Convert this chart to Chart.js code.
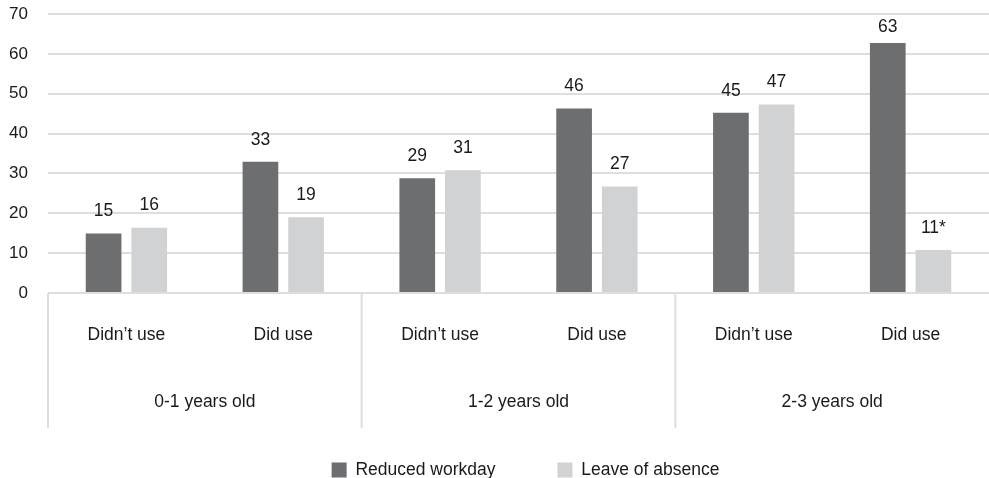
<!DOCTYPE html>
<html>
<head>
<meta charset="utf-8">
<script src="https://cdn.jsdelivr.net/npm/chart.js@4"></script>
<style>
html,body{margin:0;padding:0;background:#fff;}
#wrap{width:989px;height:478px;position:relative;}
</style>
</head>
<body>
<div id="wrap"><canvas id="c"></canvas></div>
<script>
const categories = ["Didn\u2019t use","Did use","Didn\u2019t use","Did use","Didn\u2019t use","Did use"];
const groups = ["0-1 years old","1-2 years old","2-3 years old"];
const reducedWorkday = [14.9, 32.9, 28.8, 46.3, 45.2, 62.7];
const leaveOfAbsence = [16.4, 19.0, 30.8, 26.7, 47.3, 10.8];
const reducedLabels = ["15","33","29","46","45","63"];
const leaveLabels = ["16","19","31","27","47","11*"];
const yTicks = [0,10,20,30,40,50,60,70];

const FONT = "'Liberation Sans', Arial, Helvetica, sans-serif";
const TEXT = "#1a1a1a";
const GRID = "#dedede";

const groupPlugin = {
  id: 'groupPlugin',
  afterLayout(chart) {
    // nudge legend block right and down, as in the reference
    if (chart.legend) {
      chart.legend.left += 62;
      chart.legend.top += 10.75;
      chart.legend.bottom += 10.75;
    }
  },
  afterDraw(chart) {
    const x = chart.scales.x, ctx = chart.ctx;
    const top = chart.chartArea.bottom;
    const bottom = top + 135;
    const w = x.getPixelForValue(1) - x.getPixelForValue(0);
    ctx.save();
    ctx.strokeStyle = GRID;
    ctx.lineWidth = 2;
    groups.forEach((g, i) => {
      const left = x.getPixelForValue(2*i) - w/2;
      ctx.beginPath();
      ctx.moveTo(left, top);
      ctx.lineTo(left, bottom);
      ctx.stroke();
      const cx = (x.getPixelForValue(2*i) + x.getPixelForValue(2*i+1)) / 2;
      ctx.fillStyle = TEXT;
      ctx.font = "17.5px " + FONT;
      ctx.textAlign = 'center';
      ctx.textBaseline = 'middle';
      ctx.fillText(g, cx, top + 109);
    });
    ctx.restore();
  }
};

const labelPlugin = {
  id: 'labelPlugin',
  afterDatasetsDraw(chart) {
    const ctx = chart.ctx;
    const lbls = [reducedLabels, leaveLabels];
    ctx.save();
    ctx.fillStyle = TEXT;
    ctx.font = "17.5px " + FONT;
    ctx.textAlign = 'center';
    ctx.textBaseline = 'middle';
    chart.data.datasets.forEach((ds, di) => {
      chart.getDatasetMeta(di).data.forEach((el, i) => {
        const y = Math.max(el.y - 22, chart.chartArea.top + 13);
        ctx.fillText(lbls[di][i], el.x, y);
      });
    });
    ctx.restore();
  }
};

new Chart(document.getElementById('c'), {
  type: 'bar',
  data: {
    labels: categories,
    datasets: [
      { label: 'Reduced workday', data: reducedWorkday, backgroundColor: '#6d6e70',
        categoryPercentage: 0.582, barPercentage: 0.782 },
      { label: 'Leave of absence', data: leaveOfAbsence, backgroundColor: '#d1d2d4',
        categoryPercentage: 0.582, barPercentage: 0.782 }
    ]
  },
  options: {
    responsive: true,
    maintainAspectRatio: false,
    animation: false,
    layout: { padding: 0 },
    plugins: {
      legend: {
        position: 'bottom',
        labels: {
          font: { family: FONT, size: 17.5 },
          color: TEXT,
          boxWidth: 15,
          boxHeight: 15,
          padding: 62
        },
        onClick: null
      },
      tooltip: { enabled: false }
    },
    scales: {
      x: {
        grid: { display: false },
        border: { display: false },
        ticks: { font: { family: FONT, size: 17.5 }, color: TEXT, padding: 24, maxRotation: 0 },
        afterFit(scale) { scale.height = 95.5; }
      },
      y: {
        min: 0, max: 70,
        afterBuildTicks(scale) { scale.ticks = yTicks.map(v => ({ value: v })); },
        grid: { color: GRID, lineWidth: 2, drawTicks: false },
        border: { display: false },
        ticks: { font: { family: FONT, size: 17 }, color: TEXT, padding: 20 },
        afterFit(scale) { scale.width = 48; scale.paddingTop = 14; }
      }
    }
  },
  plugins: [groupPlugin, labelPlugin]
});
</script>
</body>
</html>
